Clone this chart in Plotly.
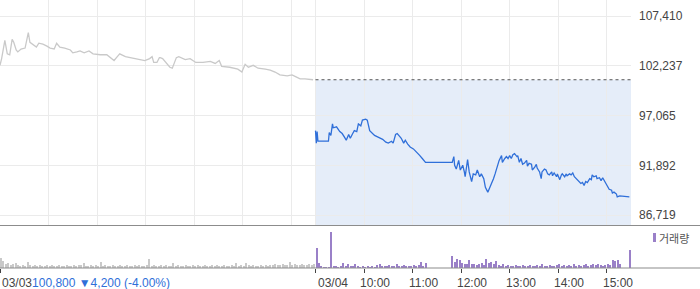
import plotly.graph_objects as go

# ---------------- data ----------------
# minutes since 09:00 (day 1 = 03/03, day 2 = 03/04), price in KRW
day1_min = [0, 2, 6, 9, 12, 15, 17, 20, 22, 26, 31, 33, 35, 37, 41, 45, 48, 53, 58, 62,
            67, 70, 74, 80, 87, 90, 95, 99, 104, 110, 115, 124, 132, 136, 141, 145, 148, 155,
            161, 169, 179, 185, 188, 190, 194, 197, 198, 201, 210, 213, 218, 221, 229, 235,
            242, 251, 260, 266, 271, 274, 284, 294, 299, 303, 307, 313, 319, 328, 334, 340,
            346, 355, 361, 366, 371, 377, 387]
day1_price = [102300, 103000, 104900, 103500, 103400, 105000, 104700, 103900, 103700, 104000,
              104100, 105100, 105700, 104700, 104400, 104200, 104600, 104500, 104300, 104100,
              104000, 104600, 104200, 104100, 103900, 103600, 103700, 103800, 103600, 103800,
              103500, 103400, 103400, 103100, 102800, 103200, 103500, 103200, 103100, 103000,
              102800, 103000, 103200, 102600, 102600, 103100, 103100, 103000, 102100, 102000,
              103100, 103200, 102900, 103000, 102600, 102600, 102700, 102500, 102800, 102200,
              102100, 101900, 101600, 102400, 102100, 102300, 102000, 101900, 101800, 101600,
              101300, 101200, 101300, 101100, 100900, 100900, 100800]

day2_min = [0, 1, 2, 3, 16, 17, 19, 21, 22, 26, 30, 33, 36, 38, 41, 43, 46, 48, 51, 53,
            56, 58, 62, 64, 67, 69, 73, 78, 83, 87, 90, 94, 96, 99, 101, 104, 106, 109, 111,
            114, 117, 121, 125, 129, 132, 136, 138, 169, 171, 172, 174, 177, 179, 182, 184,
            185, 188, 190, 193, 195, 198, 200, 203, 205, 208, 210, 213, 215, 218, 220, 222,
            225, 227, 230, 231, 234, 236, 238, 240, 242, 244, 246, 249, 250, 252, 254, 256,
            258, 261, 262, 264, 267, 268, 271, 273, 274, 277, 279, 280, 283, 285, 287, 289,
            292, 293, 295, 298, 299, 302, 304, 305, 308, 310, 311, 314, 316, 318, 320, 322,
            324, 326, 328, 330, 332, 334, 336, 339, 341, 342, 344, 347, 348, 351, 353, 355,
            357, 360, 361, 363, 366, 367, 369, 372, 373, 376, 388]
day2_price = [95500, 94200, 95400, 94400, 94400, 95300, 95000, 96200, 95800, 95900, 95400,
              95200, 94800, 94500, 95100, 94700, 95200, 95500, 95400, 96200, 96000, 96600,
              96700, 96600, 95500, 95300, 95000, 94800, 94600, 94300, 94200, 94400, 94200,
              95100, 95200, 94900, 94700, 94200, 94500, 94100, 93800, 93600, 93300, 92900,
              92600, 92200, 92200, 92200, 92800, 91900, 91500, 92400, 91400, 91900, 91200,
              90700, 92500, 91200, 90200, 91000, 90900, 91400, 90700, 91000, 90500, 89600,
              89100, 89500, 90000, 90500, 91000, 91900, 92400, 92900, 92200, 92600, 92800,
              92600, 92900, 92600, 93000, 93100, 92800, 92900, 92200, 92600, 92000, 92100,
              92400, 91800, 92100, 92000, 91400, 91700, 92000, 91600, 91200, 90500, 91200,
              91500, 91400, 91000, 90900, 91200, 90800, 91100, 90700, 91000, 90400, 90900,
              91000, 90700, 91000, 90800, 91000, 90900, 91100, 90700, 90500, 90300, 90200,
              90000, 90100, 89800, 90200, 90100, 90500, 90400, 90900, 90700, 90800, 90500,
              90600, 90300, 90600, 90300, 89700, 89600, 89400, 89300, 89000, 89100, 88900,
              88600, 88700, 88600]

prev_close = 100800
price_ticks = [86719, 91892, 97065, 102237, 107410]

# volume per 3-minute bin (thousand shares)
day1_vol = [10, 7, 4, 5, 3, 4, 5, 3, 2, 3, 2, 6, 3, 2, 3, 2, 3, 2, 2, 3,
            2, 3, 2, 2, 3, 2, 2, 3, 2, 2, 3, 2, 3, 3, 5, 2, 2, 3, 2, 3,
            2, 6, 2, 3, 2, 2, 3, 2, 2, 3, 2, 2, 3, 2, 2, 3, 2, 3, 2, 2,
            3, 9, 2, 3, 2, 2, 3, 2, 3, 2, 2, 5, 2, 3, 2, 2, 3, 2, 2, 3,
            2, 3, 2, 2, 3, 2, 2, 3, 2, 3, 2, 2, 3, 2, 2, 3, 2, 5, 2, 3,
            2, 5, 3, 2, 3, 2, 2, 3, 2, 3, 2, 3, 3, 4, 3, 3, 4, 3, 3, 6,
            3, 4, 3, 3, 4, 3, 3, 4, 3, 4]
day2_vol = [20, 5, 2, 1, 1, 1, 36, 2, 2, 1, 2, 5, 2, 4, 2, 2, 4, 2, 1, 2,
            1, 2, 1, 2, 1, 3, 4, 2, 2, 2, 3, 2, 2, 4, 2, 2, 3, 2, 2, 2,
            3, 2, 3, 6, 2, 5, 0, 0, 0, 0, 0, 0, 0, 0, 0, 0, 12, 6, 9, 8,
            5, 4, 4, 8, 4, 4, 3, 4, 5, 3, 9, 5, 6, 4, 7, 3, 2, 4, 2, 3,
            2, 2, 3, 2, 2, 3, 2, 2, 3, 2, 2, 3, 2, 4, 2, 2, 3, 2, 2, 3,
            4, 2, 3, 2, 3, 2, 4, 2, 3, 2, 3, 4, 2, 3, 4, 3, 4, 3, 2, 3,
            4, 3, 8, 7, 8, 4, 0, 0, 0, 18]

date_labels = ["03/03", "03/04"]
time_labels = ["10:00", "11:00", "12:00", "13:00", "14:00", "15:00"]
day1_quote = ["100,800", "▼4,200 (-4.00%)"]

# ---------------- figure ----------------
SESSION = 390
W, H = 700, 289
ML, MR, MT, MB = 0, 69, 0, 21
PW, PH = W - ML - MR, H - MT - MB
GRID = "#ebebeb"
FONT = "Liberation Sans, Arial, Noto Sans CJK KR, sans-serif"
BLUE = "#2f6fd9"
PURPLE = "#9a80c8"

price_dom = [(PH - 225) / PH, 1.0]
vol_dom = [0, (PH - 226) / PH]
ppx = 104.1
ymin = price_ticks[0] - 10 * ppx
ymax = ymin + 225 * ppx

fig = go.Figure()

fig.add_trace(go.Scatter(x=day1_min, y=day1_price, mode="lines",
                         line=dict(color="#c9c9c9", width=1.3), xaxis="x", yaxis="y",
                         hoverinfo="skip"))
fig.add_trace(go.Scatter(x=[SESSION + m for m in day2_min], y=day2_price, mode="lines",
                         line=dict(color=BLUE, width=1.3), xaxis="x", yaxis="y",
                         hoverinfo="skip"))
fig.add_trace(go.Scatter(x=[SESSION, 2 * SESSION], y=[prev_close, prev_close], mode="lines",
                         line=dict(color="#555555", width=1, dash="dot"), xaxis="x", yaxis="y",
                         hoverinfo="skip"))

fig.add_trace(go.Bar(x=[3 * i + 1.5 for i in range(len(day1_vol))], y=day1_vol,
                     marker=dict(color="#c9c9c9", line=dict(width=0)), width=1.6,
                     xaxis="x2", yaxis="y2", hoverinfo="skip"))
fig.add_trace(go.Bar(x=[SESSION + 3 * i + 1.5 for i in range(len(day2_vol))], y=day2_vol,
                     marker=dict(color=PURPLE, line=dict(width=0)), width=1.6,
                     xaxis="x2", yaxis="y2", hoverinfo="skip"))

grid_vals = [60 * h for h in range(7)] + [SESSION + 60 * h for h in range(7)]
tick_vals = [0, SESSION] + [SESSION + 60 * h for h in range(1, 7)]

fig.update_layout(
    width=W, height=H, margin=dict(l=ML, r=MR, t=MT, b=MB),
    paper_bgcolor="white", plot_bgcolor="white", showlegend=False, bargap=0,
    font=dict(family=FONT, size=12, color="#444444"),
    xaxis=dict(domain=[0, 1], range=[0, 2 * SESSION], tickvals=grid_vals, showticklabels=False,
               showgrid=True, gridcolor=GRID, gridwidth=1, zeroline=False, showline=False,
               anchor="y", fixedrange=True),
    yaxis=dict(domain=price_dom, range=[ymin, ymax], side="right", tickvals=price_ticks,
               ticktext=[f"{v:,}" for v in price_ticks], showgrid=True, gridcolor=GRID,
               gridwidth=1, zeroline=False, ticks="", ticklabelstandoff=7,
               tickfont=dict(size=12, color="#444444"), anchor="x", fixedrange=True),
    xaxis2=dict(domain=[0, 1], range=[0, 2 * SESSION], tickvals=tick_vals, showticklabels=False,
                showgrid=False, zeroline=False, showline=False, ticks="outside", ticklen=4,
                tickcolor="#444444", tickwidth=1, anchor="y2", fixedrange=True),
    yaxis2=dict(domain=vol_dom, range=[0, 42], showgrid=False, showticklabels=False,
                zeroline=False, ticks="", anchor="x2", fixedrange=True),
)

shapes = [
    dict(type="rect", xref="x", yref="y", x0=SESSION, x1=2 * SESSION, y0=ymin, y1=prev_close,
         fillcolor="#e5edf9", line=dict(width=0), layer="below"),
    dict(type="line", xref="paper", yref="paper", x0=0, x1=W / PW,
         y0=price_dom[0] - 0.5 / PH, y1=price_dom[0] - 0.5 / PH,
         line=dict(color="#8c8c8c", width=1.2)),
    dict(type="line", xref="paper", yref="paper", x0=0, x1=W / PW, y0=0, y1=0,
         line=dict(color="#8c8c8c", width=1.2)),
    dict(type="rect", xref="paper", yref="paper", x0=653 / PW, x1=656 / PW,
         y0=(PH - 242) / PH, y1=(PH - 233) / PH, fillcolor=PURPLE, line=dict(width=0)),
]
fig.update_layout(shapes=shapes)

ann = []
label_y = -(282.5 - PH) / PH
ann.append(dict(x=0, y=label_y, xref="x", yref="paper", xanchor="left", yanchor="middle",
                showarrow=False, font=dict(size=12, color="#444444"),
                text=f"{date_labels[0]}<span style='color:{BLUE}'>{day1_quote[0]} {day1_quote[1]}</span>"))
ann.append(dict(x=SESSION, y=label_y, xref="x", yref="paper", xanchor="left", yanchor="middle",
                showarrow=False, font=dict(size=12, color="#444444"), text=date_labels[1]))
for h, t in enumerate(time_labels, start=1):
    ann.append(dict(x=SESSION + 60 * h, y=label_y, xref="x", yref="paper", xanchor="left",
                    yanchor="middle", xshift=-6, showarrow=False,
                    font=dict(size=12, color="#444444"), text=t))
ann.append(dict(x=657 / PW, y=(PH - 238) / PH, xref="paper", yref="paper", xanchor="left",
                yanchor="middle", showarrow=False, font=dict(size=11, color="#555555",
                family="Noto Sans CJK KR, sans-serif"), text="거래량"))
fig.update_layout(annotations=ann)

fig.write_html("out.html")
